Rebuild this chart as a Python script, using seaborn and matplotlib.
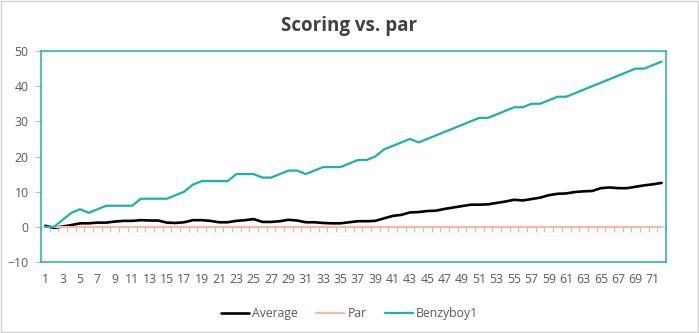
import numpy as np
import pandas as pd
import matplotlib
matplotlib.use("Agg")
import matplotlib.pyplot as plt
from matplotlib.patches import Rectangle
import seaborn as sns

# Cumulative score relative to par after each hole
holes = list(range(1, 73))
average = [0.3, -0.3, 0.1, 0.5, 1.0, 1.0, 1.2, 1.2, 1.5, 1.7, 1.7, 1.9,
           1.8, 1.8, 1.2, 1.1, 1.3, 1.9, 1.9, 1.7, 1.3, 1.3, 1.7, 1.9,
           2.2, 1.4, 1.4, 1.6, 2.0, 1.8, 1.3, 1.3, 1.1, 1.0, 1.0, 1.3,
           1.6, 1.6, 1.7, 2.4, 3.1, 3.4, 4.1, 4.2, 4.5, 4.6, 5.1, 5.5,
           5.9, 6.3, 6.3, 6.4, 6.8, 7.2, 7.7, 7.5, 7.9, 8.3, 9.0, 9.4,
           9.5, 9.9, 10.1, 10.2, 11.0, 11.2, 11.0, 11.0, 11.4, 11.8, 12.1, 12.5]
par = [0] * 72
benzyboy1 = [0, 0, 2, 4, 5, 4, 5, 6, 6, 6, 6, 8, 8, 8, 8, 9, 10, 12,
             13, 13, 13, 13, 15, 15, 15, 14, 14, 15, 16, 16, 15, 16, 17, 17,
             17, 18, 19, 19, 20, 22, 23, 24, 25, 24, 25, 26, 27, 28, 29, 30,
             31, 31, 32, 33, 34, 34, 35, 35, 36, 37, 37, 38, 39, 40, 41, 42,
             43, 44, 45, 45, 46, 47]
series_names = ["Average", "Par", "Benzyboy1"]
y_ticks = [-10, 0, 10, 20, 30, 40, 50]
x_tick_labels = [str(h) for h in holes[::2]]

df = pd.DataFrame({
    "Hole": holes * 3,
    "Score": average + par + benzyboy1,
    "Series": np.repeat(series_names, len(holes)),
})

sns.set_theme(style="white")
plt.rcParams["font.family"] = ["Open Sans", "DejaVu Sans"]

TEXT = "#595959"
TEAL = "#19B2AC"
palette = {"Average": "#000000", "Par": "#F7B9A6", "Benzyboy1": TEAL}
widths = {"Average": 1.9, "Par": 1.5, "Benzyboy1": 1.6}

fig = plt.figure(figsize=(6.99, 3.33), dpi=100)
ax = fig.add_axes([0.0587, 0.2132, 0.8941, 0.6336])

sns.lineplot(data=df, x="Hole", y="Score", hue="Series", hue_order=series_names,
             palette=palette, ax=ax, legend=True)
for line, name in zip(ax.lines, series_names):
    line.set_linewidth(widths[name])

ymin, ymax = -10, 50
ax.set_xlim(0.5, 72.5)
ax.set_ylim(ymin, ymax)
ax.set_yticks(y_ticks)
ax.set_xticks(holes[::2])
ax.set_xticklabels(x_tick_labels)
ax.set_xlabel("")
ax.set_ylabel("")
ax.tick_params(axis="x", length=0, pad=8, labelsize=8.8, labelcolor=TEXT)
ax.tick_params(axis="y", length=4, width=0.8, color="#BFBFBF", direction="out",
               pad=5, labelsize=8.8, labelcolor=TEXT, left=True)
for sp in ax.spines.values():
    sp.set_visible(True)
    sp.set_color(TEAL)
    sp.set_linewidth(1.1)

# Category tick marks along the zero line
sec = ax.secondary_xaxis((0 - ymin) / (ymax - ymin))
sec.set_xticks(np.arange(0.5, 73, 1))
sec.set_xticklabels([])
sec.tick_params(axis="x", length=3.5, width=0.8, color="#BFBFBF", direction="out")
sec.spines["bottom"].set_color("#D9D9D9")
sec.spines["bottom"].set_linewidth(0.8)

sns.move_legend(ax, "lower center", bbox_to_anchor=(0.5, 0.005),
                bbox_transform=fig.transFigure, ncol=3, frameon=False, title=None,
                fontsize=8.8, handlelength=2.3, columnspacing=1.5, handletextpad=0.25)
for t in ax.get_legend().get_texts():
    t.set_color(TEXT)
for h, name in zip(ax.get_legend().legend_handles, series_names):
    h.set_linewidth(widths[name])

fig.text(0.5, 0.922, "Scoring vs. par", ha="center", va="center",
         fontsize=13.5, fontweight="bold", color="#404040")

fig.patches.append(Rectangle((0.001, 0.002), 0.997, 0.995, transform=fig.transFigure,
                             fill=False, edgecolor="#D0D0D0", linewidth=1.0))

fig.savefig("out.png", dpi=100, facecolor="white")
